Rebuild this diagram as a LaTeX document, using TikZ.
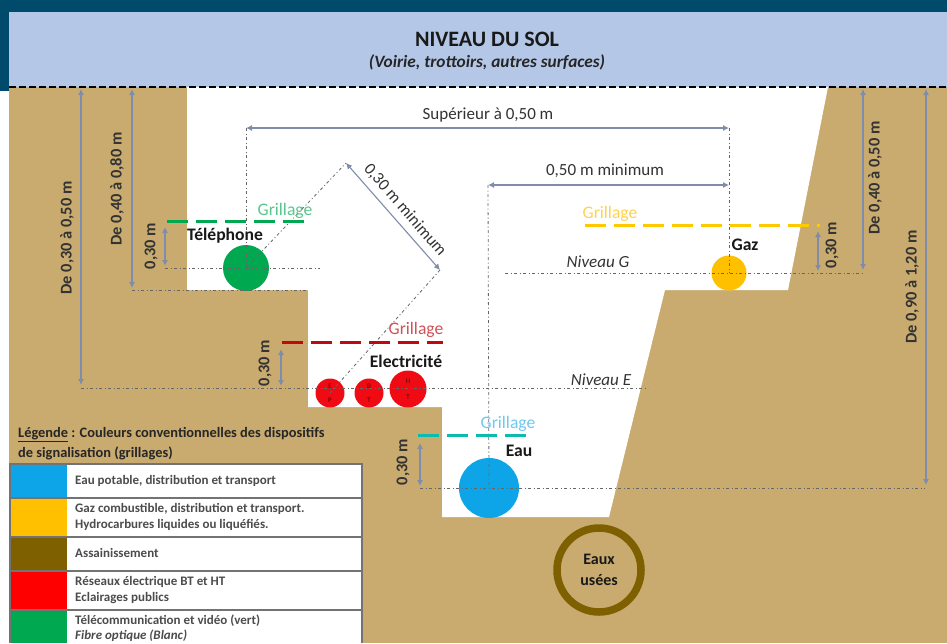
\documentclass[tikz,border=0pt]{standalone}
\usepackage{fontspec}
\setmainfont{Carlito}
\usetikzlibrary{arrows.meta}
\definecolor{navy}{HTML}{004A6B}
\definecolor{sky}{HTML}{B4C7E7}
\definecolor{ground}{HTML}{C9AB6F}
\definecolor{dimc}{HTML}{7F8CAA}
\definecolor{ringc}{HTML}{7F6000}
\definecolor{eauc}{HTML}{0DA5E8}
\definecolor{gazc}{HTML}{FFC000}
\definecolor{elecc}{HTML}{F00A14}
\definecolor{telc}{HTML}{00A84F}
\definecolor{txt}{HTML}{333333}
\tikzset{
  dimline/.style={draw=dimc,line width=1.1pt,{Latex[length=6pt,width=6pt]}-{Latex[length=6pt,width=6pt]}},
  axis/.style={draw=black!60,line width=0.8pt,dash pattern=on 3pt off 2.5pt on 1pt off 2.5pt},
  fence/.style={line width=3pt,dash pattern=on 21pt off 8pt},
  lbl/.style={font=\fontsize{17.6}{17.6}\selectfont\bfseries,text=black!90,inner sep=0pt},
  rot/.style={font=\fontsize{16.4}{16.4}\selectfont\bfseries,text=txt,inner sep=0pt,rotate=90},
  reg/.style={font=\fontsize{17}{17}\selectfont,text=txt,inner sep=0pt},
  niv/.style={font=\fontsize{17}{17}\selectfont\itshape,text=txt,inner sep=0pt},
  gril/.style={font=\fontsize{17.6}{17.6}\selectfont,inner sep=0pt},
  pipe/.style={circle,inner sep=0pt,draw=none},
  tiny/.style={font=\fontsize{7}{7}\selectfont,text=black!65!red,inner sep=0pt},
  legtxt/.style={font=\fontsize{13}{15.5}\selectfont\bfseries,text=black!70,anchor=west,align=left,inner sep=0pt},
  legtitle/.style={font=\fontsize{14.4}{14.4}\selectfont\bfseries,text=black!85,anchor=west,inner sep=0pt},
  rowline/.style={draw=black!55,line width=1.2pt}
}
\begin{document}
\begin{tikzpicture}[x=1pt,y=-1pt]
\useasboundingbox (0,0) rectangle (947,643);
% frame and sky
\fill[white] (0,0) rectangle (947,643);
\fill[ground] (9,87) rectangle (947,643);
\fill[navy] (0,0) rectangle (947,12);
\fill[navy] (0,0) rectangle (9,91);
\fill[sky] (9,12) rectangle (947,87);
% trench
\fill[white] (187,87) -- (828,87) -- (788,290) -- (665,290) -- (609,517) -- (442,517)
  -- (442,407) -- (308,407) -- (308,290) -- (187,290) -- cycle;
\draw[line width=1.6pt,dash pattern=on 7pt off 3pt] (9,87) -- (947,87);
% title
\node[font=\fontsize{22}{22}\selectfont\bfseries,text=black!90,inner sep=0pt] (titre) at (487,39) {NIVEAU DU SOL};
\node[font=\fontsize{17.3}{17.3}\selectfont\bfseries\itshape,text=black!85,inner sep=0pt] (soustitre) at (487,62) {(Voirie, trottoirs, autres surfaces)};
% reference coordinates
\coordinate (solA) at (81,89);   \coordinate (solAb) at (81,385);
\coordinate (solB) at (132,89);  \coordinate (solBb) at (132,288);
\coordinate (solC) at (863,89);  \coordinate (solCb) at (863,270);
\coordinate (solD) at (926,89);  \coordinate (solDb) at (926,485);
% pipes
\node[pipe,fill=telc,minimum size=46pt] (tel) at (246,268) {};
\node[pipe,fill=gazc,minimum size=35pt] (gaz) at (729,273) {};
\node[pipe,fill=elecc,minimum size=29pt] (ep) at (330,393) {};
\node[pipe,fill=elecc,minimum size=29pt] (bt) at (369,393) {};
\node[pipe,fill=elecc,minimum size=37pt] (ht) at (408,389) {};
\node[pipe,fill=eauc,minimum size=60pt] (eau) at (489,488) {};
\node[tiny] at (330,386) {E}; \node[tiny] at (330,400) {P};
\node[tiny] at (369,386) {B}; \node[tiny] at (369,400) {T};
\node[tiny] at (408,381) {H}; \node[tiny] at (408,397) {T};
% axis lines
\coordinate (supL) at (246,128); \coordinate (supR) at (729,128);
\coordinate (minL) at (488,185); \coordinate (minR) at (729,185);
\draw[axis] (supL) -- (tel.center);
\draw[axis] (supR) -- (gaz.center);
\draw[axis] (minL) -- (eau.center);
\coordinate (telE) at (165,268); \coordinate (telW) at (320,268);
\draw[axis] (telE) -- (telW);
\coordinate (b1) at (132,290); \coordinate (b2) at (308,290);
\draw[axis] (b1) -- (b2);
\coordinate (gE) at (505,273); \coordinate (gW) at (862,273);
\draw[axis] (gE) -- (gW);
\coordinate (eE) at (81,388); \coordinate (eW) at (648,388);
\draw[axis] (eE) -- (eW);
\coordinate (wE) at (420,488); \coordinate (wW) at (925,488);
\draw[axis] (wE) -- (wW);
% diagonal
\coordinate (diagA) at (346,163); \coordinate (diagB) at (440,270);
\draw[axis] (tel.center) -- (diagA);
\draw[axis] (diagB) -- (ep.center);
\draw[dimline] (diagA) -- (diagB);
\node[reg,rotate=-49,font=\fontsize{16.8}{16.8}\selectfont] (d30) at (405,210) {0,30 m minimum};
% fences
\draw[fence,draw=telc] (167,221) -- (310,221);
\draw[fence,draw=elecc!80!black] (282,342) -- (443,342);
\draw[fence,draw=gazc!85!yellow] (585,225) -- (820,225);
\draw[fence,draw=eauc!75!green] (418,435) -- (531,435);
\node[gril,text=telc!65!white] (g1) at (285,211) {Grillage};
\node[gril,text=elecc!65!white!85!black] (g2) at (416,330) {Grillage};
\node[gril,text=gazc!70!white] (g3) at (610,214) {Grillage};
\node[gril,text=eauc!60!white] (g4) at (508,424) {Grillage};
% pipe labels
\node[lbl] (ltel) at (225,236) {Téléphone};
\node[lbl] (lel) at (406,361) {Electricité};
\node[lbl] (lgaz) at (745,245) {Gaz};
\node[lbl] (leau) at (519,451) {Eau};
% sewer
\node[circle,draw=ringc,line width=7.5pt,minimum size=84pt,inner sep=0pt,align=center,font=\fontsize{16}{21}\selectfont\bfseries,text=black!90] (use) at (599,570) {Eaux\\usées};
% dimensions
\draw[dimline] (solA) -- (solAb);
\draw[dimline] (solB) -- (solBb);
\draw[dimline] (solC) -- (solCb);
\draw[dimline] (solD) -- (solDb);
\draw[dimline] (supL) -- (supR);
\draw[dimline] (minL) -- (minR);
\coordinate (a1) at (165,227); \coordinate (a1b) at (165,266);
\draw[dimline] (a1) -- (a1b);
\coordinate (a2) at (281,349); \coordinate (a2b) at (281,386);
\draw[dimline] (a2) -- (a2b);
\coordinate (a3) at (818,231); \coordinate (a3b) at (818,271);
\draw[dimline] (a3) -- (a3b);
\coordinate (a4) at (420,443); \coordinate (a4b) at (420,486);
\draw[dimline] (a4) -- (a4b);
\node[reg] (tsup) at (488,115) {Supérieur à 0,50 m};
\node[reg] (tmin) at (605,171) {0,50 m minimum};
\node[rot] (r1) at (67,238) {De 0,30 à 0,50 m};
\node[rot] (r2) at (117,189) {De 0,40 à 0,80 m};
\node[rot] (r3) at (151,246) {0,30 m};
\node[rot] (r4) at (265,363) {0,30 m};
\node[rot] (r5) at (403,462) {0,30 m};
\node[rot] (r6) at (832,245) {0,30 m};
\node[rot] (r7) at (875,178) {De 0,40 à 0,50 m};
\node[rot] (r8) at (912,287) {De 0,90 à 1,20 m};
\node[niv] (ng) at (598,262) {Niveau G};
\node[niv] (ne) at (601,380) {Niveau E};
% legend
\node[legtitle] (lt1) at (18,435) {\underline{Légende} : Couleurs conventionnelles des dispositifs};
\node[legtitle] (lt2) at (18,453) {de signalisation (grillages)};
\fill[white] (67,464) rectangle (362,643);
\fill[eauc] (10,464) rectangle (67,498);
\fill[gazc] (10,498) rectangle (67,537);
\fill[ringc] (10,537) rectangle (67,571);
\fill[red] (10,571) rectangle (67,610);
\fill[telc] (10,610) rectangle (67,643);
\draw[rowline] (10,643) -- (10,464) -- (362,464) -- (362,643);
\foreach \yy in {498,537,571,610} \draw[rowline] (10,\yy) -- (362,\yy);
\node[legtxt] (l1) at (75,481) {Eau potable, distribution et transport};
\node[legtxt] (l2) at (75,517) {Gaz combustible, distribution et transport.\\Hydrocarbures liquides ou liquéfiés.};
\node[legtxt] (l3) at (75,553) {Assainissement};
\node[legtxt] (l4) at (75,590) {Réseaux électrique BT et HT\\Eclairages publics};
\node[legtxt] (l5) at (75,628) {Télécommunication et vidéo (vert)\\\textit{Fibre optique  (Blanc)}};
\end{tikzpicture}
\end{document}
